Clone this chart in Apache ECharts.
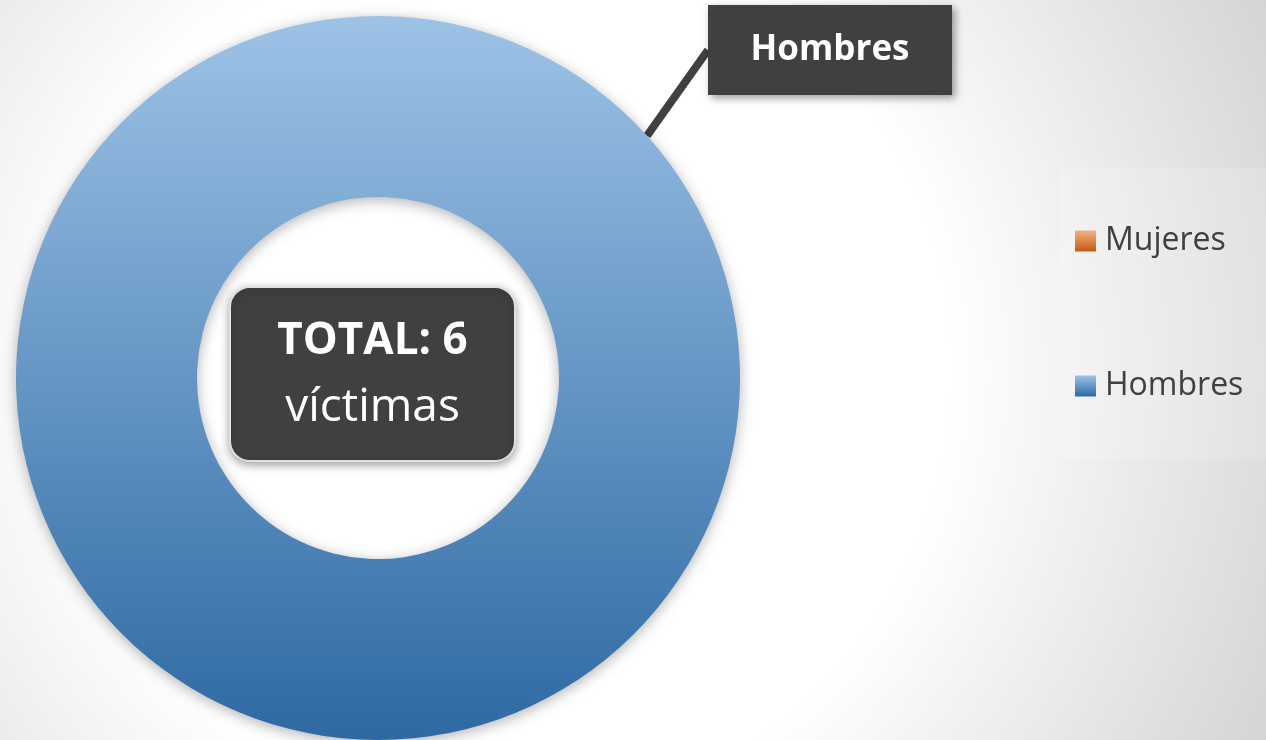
<!DOCTYPE html>
<html>
<head>
<meta charset="utf-8">
<script src="https://cdn.jsdelivr.net/npm/echarts@6/dist/echarts.min.js"></script>
<style>
  html, body { margin: 0; padding: 0; }
  #main { width: 1266px; height: 740px; }
</style>
</head>
<body>
<div id="main"></div>
<script>
// datos
var categories = ['Mujeres', 'Hombres'];
var values = [0, 6];
var unidad = 'víctimas';

var total = values.reduce(function (a, b) { return a + b; }, 0);

var colores = {
  Mujeres: ['#f4b183', '#c55a11'],
  Hombres: ['#9dc3e6', '#2e69a3']
};

var chartDom = document.getElementById('main');
var myChart = echarts.init(chartDom);

var data = categories.map(function (name, i) {
  var item = {
    name: name,
    value: values[i],
    itemStyle: {
      color: new echarts.graphic.LinearGradient(0, 0, 0, 1, [
        { offset: 0, color: colores[name][0] },
        { offset: 1, color: colores[name][1] }
      ])
    }
  };
  if (values[i] === 0) {
    item.label = { show: false };
    item.labelLine = { show: false };
  }
  return item;
});

var option = {
  backgroundColor: new echarts.graphic.RadialGradient(0.4, 0.5, 1.2, [
    { offset: 0, color: '#ffffff' },
    { offset: 0.5, color: '#ffffff' },
    { offset: 1, color: '#d0d0d0' }
  ]),
  title: {
    text: '{a|TOTAL: ' + total + '}\n{b|' + unidad + '}',
    left: 230,
    top: 274,
    padding: [33, 20, 31, 20],
    backgroundColor: '#404040',
    borderColor: '#e0e0e0',
    borderWidth: 2,
    borderRadius: 20,
    shadowBlur: 8,
    shadowOffsetY: 3,
    shadowColor: 'rgba(0,0,0,0.35)',
    textStyle: {
      rich: {
        a: {
          fontFamily: 'Open Sans',
          fontWeight: 'bold',
          fontSize: 44,
          color: '#ffffff',
          width: 245,
          align: 'center',
          lineHeight: 69
        },
        b: {
          fontFamily: 'Open Sans',
          fontWeight: 'normal',
          fontSize: 46,
          color: '#ffffff',
          width: 245,
          align: 'center',
          lineHeight: 63
        }
      }
    }
  },
  legend: {
    orient: 'vertical',
    left: 1060,
    top: 168,
    padding: [56, 30, 56, 15],
    backgroundColor: 'rgba(255,255,255,0.15)',
    itemWidth: 21,
    itemHeight: 21,
    itemGap: 111,
    icon: 'rect',
    data: categories,
    textStyle: {
      fontFamily: 'Open Sans',
      fontSize: 32,
      lineHeight: 34,
      color: '#404040',
      padding: [0, 0, 0, 4]
    }
  },
  series: [
    {
      name: 'Víctimas',
      type: 'pie',
      center: [378, 378],
      radius: [181, 362],
      startAngle: 222,
      avoidLabelOverlap: false,
      silent: true,
      itemStyle: {
        shadowBlur: 14,
        shadowOffsetY: 3,
        shadowColor: 'rgba(0,0,0,0.3)'
      },
      label: {
        show: true,
        position: 'outside',
        formatter: '{b}',
        fontFamily: 'Open Sans',
        fontWeight: 'bold',
        fontSize: 35,
        color: '#ffffff',
        backgroundColor: '#404040',
        width: 164,
        lineHeight: 40,
        align: 'center',
        padding: [25, 40, 25, 40],
        shadowBlur: 8,
        shadowOffsetX: 3,
        shadowOffsetY: 3,
        shadowColor: 'rgba(0,0,0,0.4)'
      },
      labelLine: {
        show: true,
        length: 1,
        length2: 0,
        smooth: false,
        lineStyle: {
          color: '#404040',
          width: 8
        }
      },
      labelLayout: {
        x: 830,
        y: 50,
        align: 'center',
        verticalAlign: 'middle'
      },
      data: data
    }
  ]
};

myChart.setOption(option);
</script>
</body>
</html>
